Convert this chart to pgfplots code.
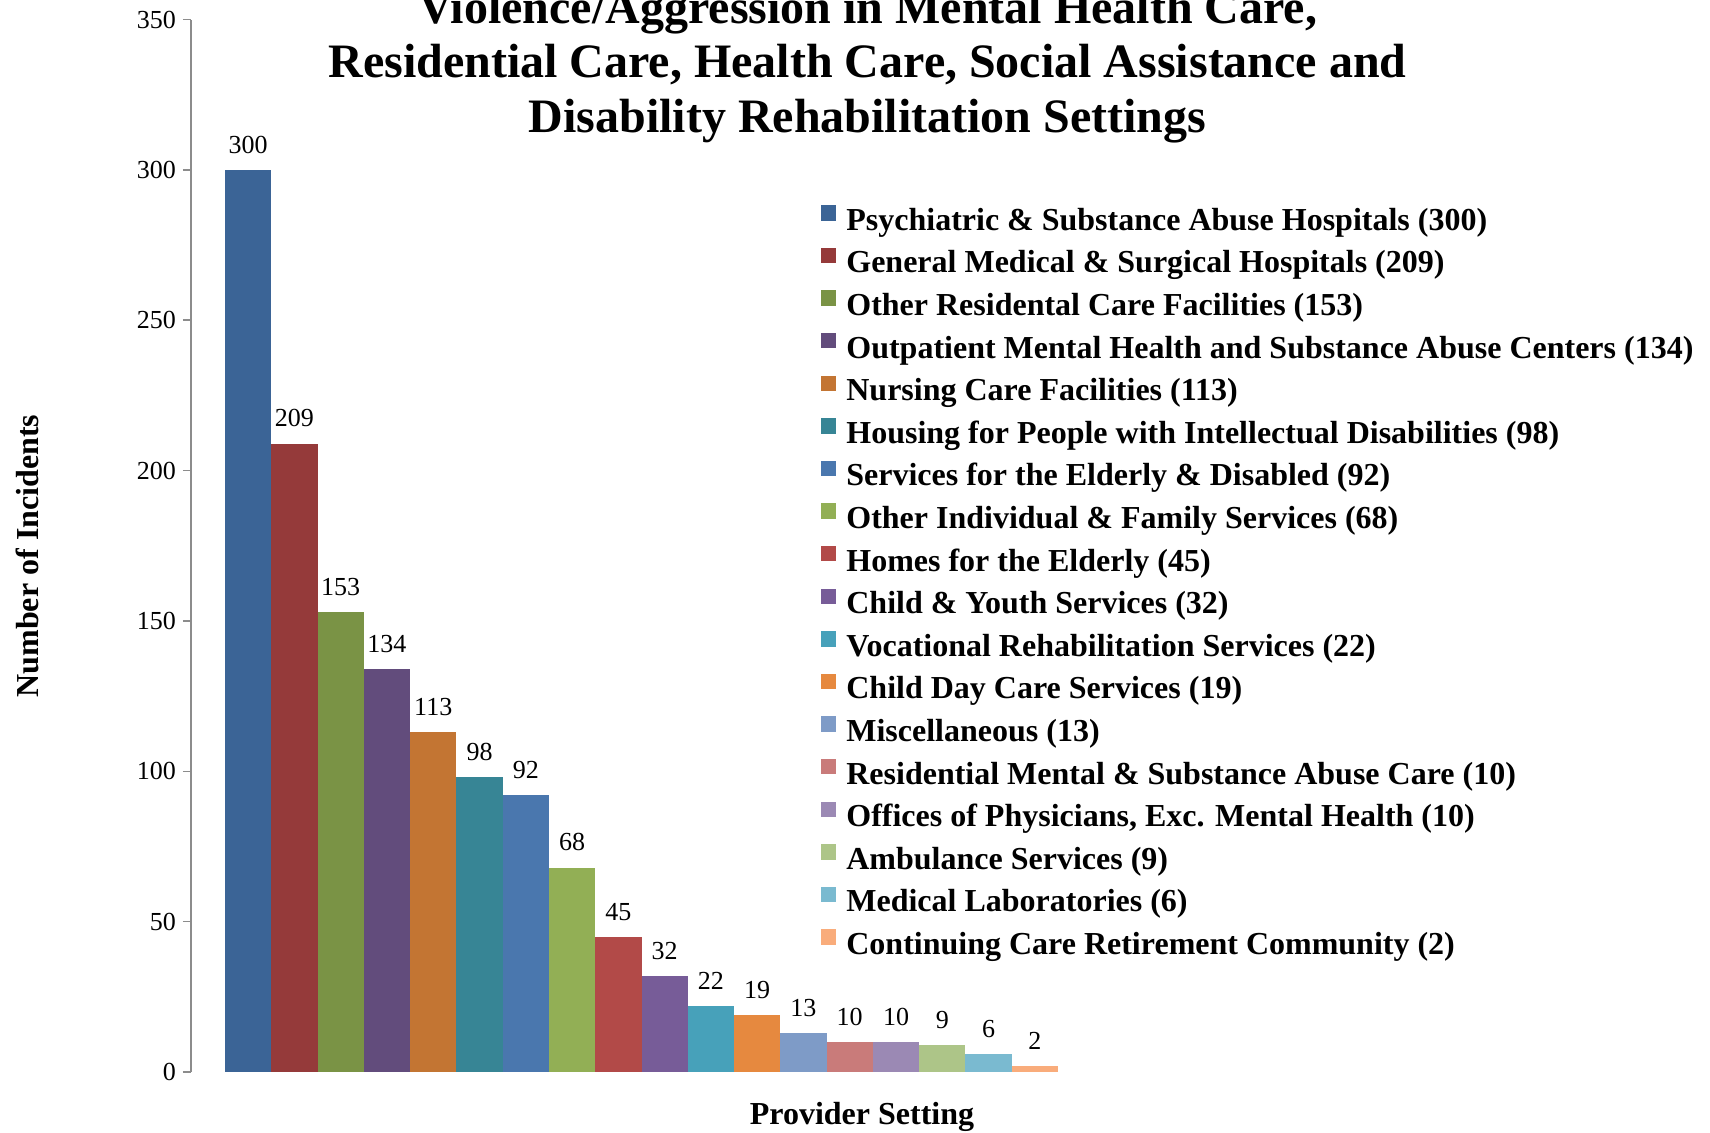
\documentclass[border=0pt]{standalone}
\usepackage{pgfplots}
\pgfplotsset{compat=1.18}
\usepackage{fontspec}
\setmainfont{Liberation Serif}
\definecolor{c1}{HTML}{3B6496}
\definecolor{c2}{HTML}{953A3A}
\definecolor{c3}{HTML}{7A9345}
\definecolor{c4}{HTML}{624C7C}
\definecolor{c5}{HTML}{C37533}
\definecolor{c6}{HTML}{378595}
\definecolor{c7}{HTML}{4A77AE}
\definecolor{c8}{HTML}{92AF55}
\definecolor{c9}{HTML}{B24A48}
\definecolor{c10}{HTML}{775C98}
\definecolor{c11}{HTML}{47A1BA}
\definecolor{c12}{HTML}{E6893F}
\definecolor{c13}{HTML}{7E9BC7}
\definecolor{c14}{HTML}{C97B7A}
\definecolor{c15}{HTML}{9B89B4}
\definecolor{c16}{HTML}{ADC588}
\definecolor{c17}{HTML}{7ABAD0}
\definecolor{c18}{HTML}{F9AC7B}
\definecolor{axgray}{HTML}{8C8C8C}
\begin{document}
\begin{tikzpicture}
\begin{axis}[
  at={(95.5pt,30pt)}, anchor=south west,
  scale only axis,
  width=450.5pt, height=526.2pt,
  xmin=-0.235, xmax=19.235,
  ymin=0, ymax=350,
  ytick={0,50,...,350},
  xtick=\empty,
  axis y line*=left,
  axis x line=none,
  y axis line style={draw=axgray, line width=0.8pt},
  major tick style={draw=axgray, line width=0.8pt},
  tick align=outside,
  major tick length=4pt,
  /pgf/number format/assume math mode=true,
  yticklabel style={font=\fontsize{13}{15}\selectfont},
  ybar,
  every axis plot/.append style={bar shift=0pt, bar width=1, draw=none},
  nodes near coords,
  every node near coord/.append style={font=\fontsize{13}{15}\selectfont, inner sep=0pt, yshift=8pt, anchor=south},
  clip=false,
  ylabel={Number of Incidents},
  ylabel style={at={(axis description cs:-0.182,0.4903)}, anchor=center, font=\fontsize{16}{19}\selectfont\bfseries},
  legend cell align=left,
  legend image code/.code={\path[#1,draw=none] (0pt,0.8pt) rectangle (7.7pt,8.5pt);},
  legend style={at={(0.6992,0.8236)}, anchor=north west, draw=none, fill=none,
    inner sep=0pt, outer sep=0pt, row sep=5.3pt, column sep=5pt,
    font=\fontsize{16}{19}\selectfont\bfseries,
    nodes={inner sep=0pt, text height=11.5pt, text depth=3.5pt}},
]
\addplot[fill=c1] coordinates {(1,300)};
\addlegendentry{Psychiatric \& Substance Abuse Hospitals (300)}
\addplot[fill=c2] coordinates {(2,209)};
\addlegendentry{General Medical \& Surgical Hospitals (209)}
\addplot[fill=c3] coordinates {(3,153)};
\addlegendentry{Other Residental Care Facilities (153)}
\addplot[fill=c4] coordinates {(4,134)};
\addlegendentry{Outpatient Mental Health and Substance Abuse Centers (134)}
\addplot[fill=c5] coordinates {(5,113)};
\addlegendentry{Nursing Care Facilities (113)}
\addplot[fill=c6] coordinates {(6,98)};
\addlegendentry{Housing for People with Intellectual Disabilities (98)}
\addplot[fill=c7] coordinates {(7,92)};
\addlegendentry{Services for the Elderly \& Disabled (92)}
\addplot[fill=c8] coordinates {(8,68)};
\addlegendentry{Other Individual \& Family Services (68)}
\addplot[fill=c9] coordinates {(9,45)};
\addlegendentry{Homes for the Elderly (45)}
\addplot[fill=c10] coordinates {(10,32)};
\addlegendentry{Child \& Youth Services (32)}
\addplot[fill=c11] coordinates {(11,22)};
\addlegendentry{Vocational Rehabilitation Services (22)}
\addplot[fill=c12] coordinates {(12,19)};
\addlegendentry{Child Day Care Services (19)}
\addplot[fill=c13] coordinates {(13,13)};
\addlegendentry{Miscellaneous (13)}
\addplot[fill=c14] coordinates {(14,10)};
\addlegendentry{Residential Mental \& Substance Abuse Care (10)}
\addplot[fill=c15] coordinates {(15,10)};
\addlegendentry{Offices of Physicians, Exc. Mental Health (10)}
\addplot[fill=c16] coordinates {(16,9)};
\addlegendentry{Ambulance Services (9)}
\addplot[fill=c17] coordinates {(17,6)};
\addlegendentry{Medical Laboratories (6)}
\addplot[fill=c18] coordinates {(18,2)};
\addlegendentry{Continuing Care Retirement Community (2)}
\end{axis}
\node[anchor=center, font=\fontsize{16}{19}\selectfont\bfseries] at (431pt,7.5pt) {Provider Setting};
\node[anchor=base, font=\fontsize{24}{27}\selectfont\bfseries] at (433.8pt,554.25pt) {Violence/Aggression in Mental Health Care,};
\node[anchor=base, font=\fontsize{24}{27}\selectfont\bfseries] at (433.8pt,527pt) {Residential Care, Health Care, Social Assistance and};
\node[anchor=base, font=\fontsize{24}{27}\selectfont\bfseries] at (433.8pt,499.75pt) {Disability Rehabilitation Settings};
\pgfresetboundingbox
\useasboundingbox (0pt,0pt) rectangle (855pt,566pt);
\end{tikzpicture}
\end{document}
